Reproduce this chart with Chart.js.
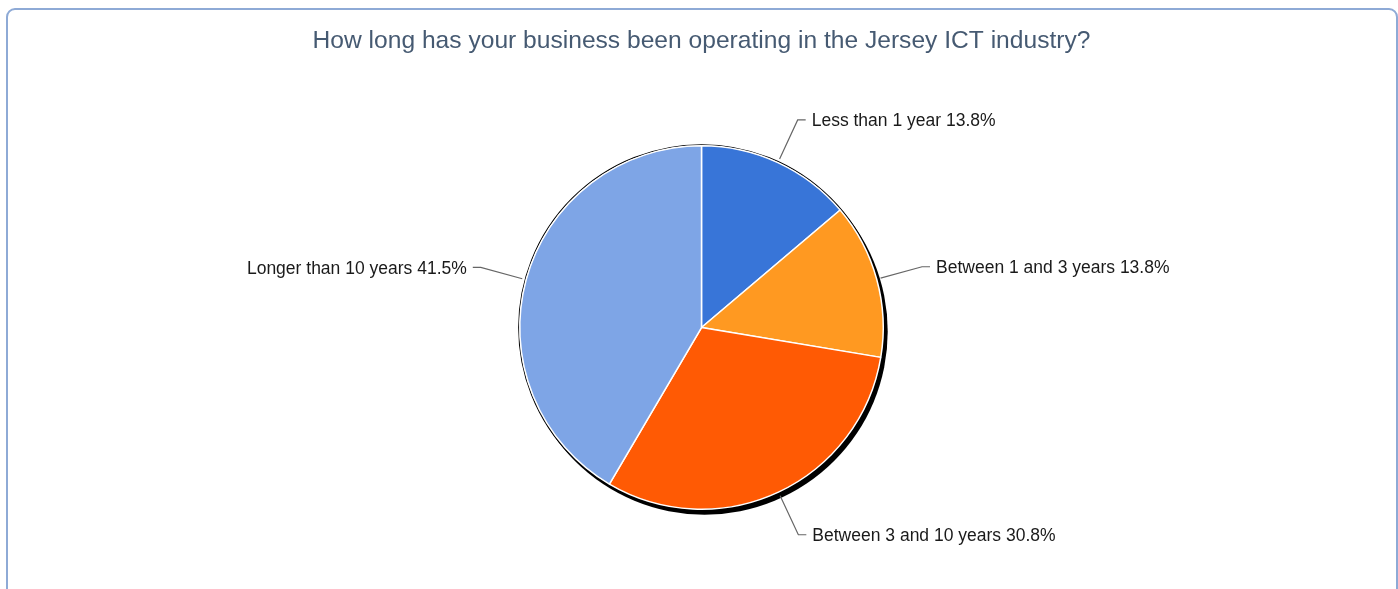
<!DOCTYPE html>
<html>
<head>
<meta charset="utf-8">
<title>Jersey ICT industry</title>
<script src="https://cdn.jsdelivr.net/npm/chart.js@4.4.0/dist/chart.umd.min.js"></script>
<style>
    html, body { margin: 0; padding: 0; background: #fff; overflow: hidden; }
    .card {
        position: absolute; left: 6px; top: 8px;
        width: 1388px; height: 600px;
        border: 2px solid #8eaad6; border-radius: 9px;
    }
    .wrap { position: absolute; left: 0; top: 0; width: 1398px; height: 589px; }
</style>
</head>
<body>
<div class="card"></div>
<div class="wrap"><canvas id="Chart"></canvas></div>
<script>
// Данные опроса
var categories = ['Less than 1 year', 'Between 1 and 3 years', 'Between 3 and 10 years', 'Longer than 10 years'];
var shares = [13.8, 13.8, 30.8, 41.5];
var colors = ['#3875d8', '#ff9921', '#ff5a04', '#7ea5e6'];

// Тень под кругом (чёрный сдвинутый диск + тонкий контур)
var pieShadow = {
    id: 'pieShadow',
    beforeDatasetsDraw: function (chart) {
        var arc = chart.getDatasetMeta(0).data[0];
        if (!arc) return;
        var ctx = chart.ctx;
        ctx.save();
        ctx.fillStyle = '#000';
        ctx.beginPath();
        ctx.arc(arc.x + 3, arc.y + 4, arc.outerRadius + 1.5, 0, Math.PI * 2);
        ctx.fill();
        ctx.lineWidth = 1.2;
        ctx.strokeStyle = '#000';
        ctx.beginPath();
        ctx.arc(arc.x, arc.y, arc.outerRadius + 1, 0, Math.PI * 2);
        ctx.stroke();
        ctx.restore();
    }
};

// Подписи с выносными линиями
var leaderLabels = {
    id: 'leaderLabels',
    afterDatasetsDraw: function (chart) {
        var ctx = chart.ctx;
        var meta = chart.getDatasetMeta(0);
        ctx.save();
        ctx.font = '17.5px "Liberation Sans", Arial, sans-serif';
        ctx.textBaseline = 'middle';
        meta.data.forEach(function (arc, i) {
            var mid = (arc.startAngle + arc.endAngle) / 2;
            var cos = Math.cos(mid), sin = Math.sin(mid);
            var r = arc.outerRadius;
            var x0 = arc.x + cos * (r + 4), y0 = arc.y + sin * (r + 4);
            var x1 = arc.x + cos * (r + 47), y1 = arc.y + sin * (r + 47);
            var dir = cos >= 0 ? 1 : -1;
            var x2 = x1 + dir * 8;
            ctx.strokeStyle = '#666';
            ctx.lineWidth = 1.2;
            ctx.beginPath();
            ctx.moveTo(x0, y0);
            ctx.lineTo(x1, y1);
            ctx.lineTo(x2, y1);
            ctx.stroke();
            ctx.fillStyle = '#1a1a1a';
            ctx.textAlign = dir > 0 ? 'left' : 'right';
            ctx.fillText(chart.data.labels[i] + ' ' + shares[i] + '%', x2 + dir * 6, y1 + 1.5);
        });
        ctx.restore();
    }
};

var context = document.getElementById('Chart').getContext('2d');

var myChart = new Chart(context, {
    type: 'pie',
    data: {
        labels: categories,
        datasets: [{
            data: shares,
            backgroundColor: colors,
            borderColor: '#ffffff',
            borderWidth: 1.5
        }]
    },
    options: {
        responsive: true,
        maintainAspectRatio: false,
        animation: false,
        layout: {
            padding: { top: 0, bottom: 79, left: 5, right: 0 }
        },
        plugins: {
            legend: { display: false },
            tooltip: { enabled: false },
            title: {
                display: true,
                text: 'How long has your business been operating in the Jersey ICT industry?',
                color: '#465a72',
                font: { family: '"Liberation Sans", Arial, sans-serif', size: 24.6, weight: 'normal', lineHeight: 1.2 },
                padding: { top: 26, bottom: 89.5 }
            }
        }
    },
    plugins: [pieShadow, leaderLabels]
});
</script>
</body>
</html>
